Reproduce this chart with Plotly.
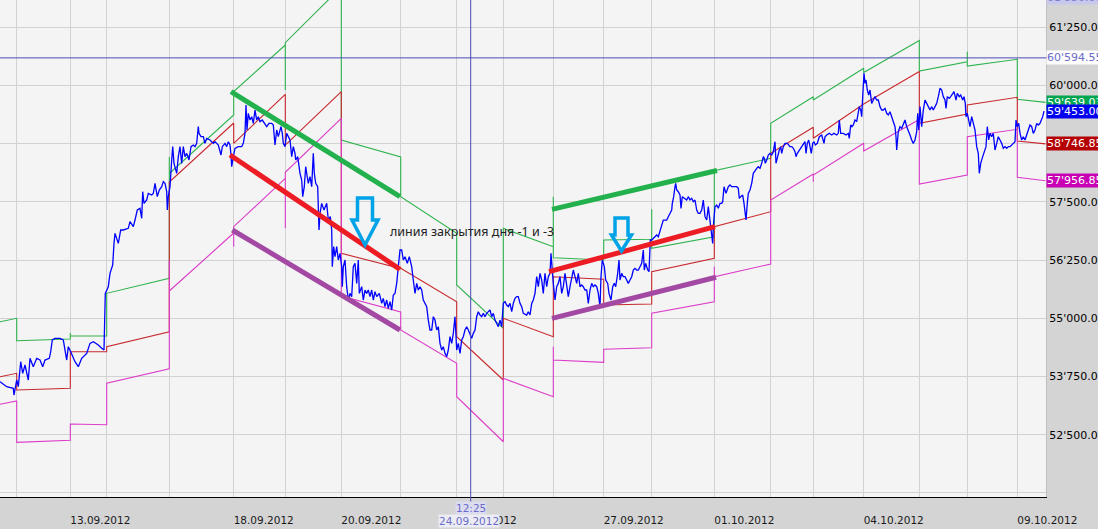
import plotly.graph_objects as go

# ---------------- data ----------------
# trading-day boundaries (bar index on the x axis) and their dates
day_starts = [0, 16.7, 70.3, 106.7, 169.3, 233.7, 285.3, 341.3, 400.7, 456.7, 503.3,
              553.3, 603.7, 651.7, 714.3, 770.7, 813.3, 863.7, 919.3, 967.3, 1017.3]
session_end = 1045.5
day_dates = ["11.09.2012", "12.09.2012", "13.09.2012", "14.09.2012", "17.09.2012",
             "18.09.2012", "19.09.2012", "20.09.2012", "21.09.2012", "24.09.2012",
             "25.09.2012", "26.09.2012", "27.09.2012", "28.09.2012", "01.10.2012",
             "02.10.2012", "03.10.2012", "04.10.2012", "05.10.2012", "08.10.2012",
             "09.10.2012"]
labeled_dates = ["13.09.2012", "18.09.2012", "20.09.2012", "24.09.2012",
                 "27.09.2012", "01.10.2012", "04.10.2012", "09.10.2012"]

# daily channel levels (value at day open / at day close)
upper_open = [54928, 54520, 54621, 55538, 58111, 59873, 60921, 58831, 57613, 55716, 56934,
              56303, 56683, 56505, 58171, 59190, 59690, 60281, 60313, 60420, 59705]
upper_close = [55001, 54556, 54621, 55860, 59368, 60871, 62117, 58466, 56827, 54786, 56539,
               56253, 56698, 56754, 58438, 59761, 60371, 60968, 60513, 60564, 59639.03]
mid_open = [53747, 53461, 54283, 54391, 57929, 58760, 58723, 56397, 56075, 54606, 55001,
            55894, 55287, 56002, 56969, 58545, 58867, 59604, 59190, 59583, 58809]
mid_close = [53820, 53497, 54283, 54713, 59196, 59812, 59868, 56071, 55357, 53676, 54606,
             55839, 55308, 56290, 57291, 59104, 59604, 60302, 59389, 59748, 58746.85]
low_open = [53154, 52337, 52730, 53605, 55587, 56969, 58137, 55480, 54750, 53317, 53712,
            54105, 54335, 55108, 55894, 57542, 58079, 58595, 57886, 58902, 58030]
low_close = [53225, 52380, 52715, 53918, 56833, 58008, 59297, 55136, 54034, 52350, 53317,
             54056, 54369, 55357, 56167, 58100, 58760, 59271, 58079, 59061, 57956.85]
# overshoot reached at the day switch (None = none)
upper_spike = [None, None, 54685, None, 58466, None, 59905, None, None, None, None,
               57613, None, 57342, None, None, None, None, None, 60728, None]
mid_spike = [None] * 21
low_spike = [None, None, None, None, 56253, 56539, 56934, None, None, None, None,
             54391, None, None, 56109, None, 57935, None, None, None, None]

# price (bar index, price)
price_points = [
    (0, 53640), (6.7, 53532), (13.3, 53497), (14, 53353), (16.7, 53676), (18.3, 53532),
    (20.7, 54069), (22.7, 53819), (25, 53998), (28.3, 53676), (30, 54141), (33.3, 53962),
    (36.7, 54141), (40, 54105), (42.7, 53962), (45, 54105), (49.3, 54141), (50.7, 54284),
    (52.3, 54535), (55, 54571), (60, 54571), (63.3, 54535), (66.7, 54105), (68.3, 54392),
    (70.7, 54284), (75, 54069), (78.3, 53962), (81.7, 54141), (86.7, 54248), (90, 54463),
    (93.3, 54499), (98.3, 54427), (101.7, 54356), (104, 54320), (105.3, 55537), (108.3, 55680),
    (110, 55967), (112.7, 56146), (114, 56611), (115, 56826), (118.3, 56611), (120.7, 56898),
    (123.3, 56898), (128.3, 56933), (130, 57077), (133.3, 56969), (135, 57112), (137.3, 57327),
    (140, 57363), (141.7, 57148), (142.7, 57721), (144, 57470), (146.7, 57542), (148.3, 57685),
    (151.7, 57649), (153.3, 57685), (155, 57900), (157.3, 57614), (159.3, 57757), (161.7, 57828),
    (163.3, 57936), (165, 57900), (166.7, 57721), (167.3, 57327), (168.3, 57614), (170, 57828),
    (171.7, 58401), (172.7, 58688), (174, 58330),
    (176.7, 58115), (178.3, 58473), (180, 58688), (181.7, 58330), (183.3, 58688), (185, 58473),
    (186.7, 58544), (189, 58401), (191, 58688), (193.3, 58723), (195, 58688), (196.7, 58759),
    (198.3, 59117), (199, 58974), (201, 58902), (203.3, 58902), (205, 58759), (206.7, 58867),
    (210, 58831), (213.3, 58759), (215, 58795), (216.7, 58759), (218.3, 58723), (221, 58509),
    (222.3, 58688), (225, 58759), (226.7, 58688), (228.3, 58795), (230, 58723), (231, 58509),
    (231.7, 58258), (233.3, 58473), (235, 58652), (238.3, 58688), (241.7, 58688), (243.3, 58759),
    (245, 58974), (246, 59583), (247, 59046), (248.3, 59404), (250, 59260), (251.7, 59332),
    (253.3, 59189), (255, 59475), (256.7, 59260), (258.3, 59332), (260, 59225), (262.3, 59260),
    (265, 59153), (266.7, 59117), (269, 59189), (271.7, 59189), (273.3, 59153), (275, 58723),
    (276.7, 59046), (278.3, 58902), (281, 59117), (282.3, 58974), (283.3, 58759), (285, 58688),
    (286.7, 58974), (288.3, 58902), (290, 58831), (291.7, 58473), (293.3, 58688), (295, 58544),
    (295.7, 58401), (297.7, 58473), (300, 58115), (301.7, 57972), (302.7, 57614), (304.3, 57828),
    (305.7, 58258), (306.7, 58115), (308.3, 57900), (310, 58043), (311.7, 57828), (313.3, 58544),
    (314.3, 58115), (315.7, 57900), (317.7, 57828), (319, 56898), (320, 57256), (321.7, 57470),
    (324, 57327), (326.7, 57470), (328.3, 57112), (330.3, 57184), (331.7, 56898), (332.3, 56110),
    (333.7, 56540), (335, 56325), (336.7, 56540), (338.3, 56253), (340, 56396), (341.7, 56110),
    (342.3, 55680), (343.3, 56110), (345, 56253), (346.7, 55680), (348.3, 55394),
    (350, 55537), (351.7, 55466), (353.3, 56110), (355, 56182), (356.7, 55752), (358.3, 56253),
    (359.3, 55537), (361.7, 55680), (363.3, 55394), (365, 55609), (366.7, 55537), (368.3, 55609),
    (370, 55466), (371.7, 55609), (373.3, 55394), (375, 55573), (376.7, 55466), (379.3, 55537),
    (381.7, 55322), (383.3, 55430), (385, 55251), (386.7, 55394), (388.3, 55215), (390, 55358),
    (391.7, 55179), (393.3, 55501), (395, 55537), (396.7, 55752), (398.3, 56110), (400, 56468),
    (401.7, 56468), (403.3, 56253), (405, 56325), (407.3, 56182), (409.3, 56325), (411.7, 56110),
    (413.3, 55824), (415, 55537), (416.7, 55752), (418.3, 55609), (420, 55680), (421.7, 55609),
    (423.3, 55394), (425, 55322), (426.7, 55251), (428.3, 54964), (430, 54750), (431.7, 54750),
    (433.3, 55036), (435, 54964), (436.7, 54750), (438.3, 54821), (440, 54463), (441.7, 54320),
    (443.3, 54392), (445, 54248), (446.7, 54177), (448.3, 54320), (450, 54606), (451.7, 54463),
    (453.3, 54678), (455, 55036), (456.7, 54320), (458.3, 54463), (460, 54248), (461.7, 54535),
    (463.3, 54606), (465, 54750), (466.7, 54821), (468.3, 54750), (470, 54678), (471.7, 54571),
    (473.3, 54678), (475, 54750), (476.7, 55036), (478.3, 55143), (480, 55072), (481.7, 55036),
    (483.3, 55108), (485, 55036), (486.7, 55108), (488.3, 55143), (490, 55179), (491.7, 55036),
    (493.3, 55108), (495, 54964), (496.7, 54893), (498.3, 54821), (500, 54964), (501.7, 54821),
    (503.3, 55322), (505, 55358), (506.7, 55287), (508.3, 55251), (510, 55322), (511.7, 55143),
    (513.3, 55322), (515, 55430), (516.7, 55466), (518.3, 55466), (520, 55322), (521.7, 55251),
    (523.3, 55108),
    (526.7, 55072), (528.3, 55143), (530, 55072), (531.7, 55322), (533.3, 55394), (535, 55537),
    (536.7, 55895), (538.3, 55680), (540, 55967), (541.7, 55824), (543.3, 55537), (545, 55967),
    (546.7, 55680), (548.3, 55895), (550, 55967), (551, 56396), (551.7, 56110), (553.3, 55752),
    (555, 55394), (556.7, 55680), (558.3, 55752), (560, 55895), (561.7, 55537), (563.3, 55680),
    (565, 55967), (566.7, 55752), (568.3, 55466), (570, 55680), (571.7, 55895), (573.3, 56038),
    (575, 55895), (576.7, 55752), (578.3, 55967), (580, 55680), (581.7, 55716), (583.3, 55680),
    (585, 55609), (586.7, 55609), (588.3, 55322), (590, 55609), (591.7, 55752), (593.3, 55680),
    (595, 55716), (596.7, 55680), (598.3, 55537), (600, 55251), (601, 55895), (602.3, 56253),
    (604.3, 56110), (605.7, 55824), (607.7, 55752), (609, 55537), (611, 55394), (612.7, 55680),
    (614.3, 55752), (615.7, 55680), (617.7, 55967), (619, 56253), (620, 55824), (621.7, 55967),
    (623.3, 55895), (625, 55895), (626.7, 55824), (628.3, 55752), (630, 55824), (631.7, 55895),
    (633.3, 56038), (635, 56074), (636.7, 56038), (638.3, 56038), (640, 56110), (641.7, 56182),
    (643.3, 56468), (644.3, 56038), (645.7, 56182), (647.7, 56038), (649, 56003), (650.3, 56683),
    (651.7, 56683), (653.3, 56719), (655, 56754), (656.7, 56790), (658.3, 56754), (660, 56862),
    (661.7, 56969), (663.3, 57112), (665, 57112), (666.7, 57112), (668.3, 57184), (670, 57256),
    (671.7, 57327), (672.3, 57470), (673.7, 57614), (675, 57828), (675.7, 57900), (676.7, 57757),
    (678.3, 57721), (680, 57649), (681, 57363), (682.3, 57614), (684.3, 57578), (686.7, 57542),
    (688.3, 57614), (690, 57542), (691.7, 57578), (693.3, 57506), (695, 57542), (696.7, 57327),
    (698.3, 57256), (700, 57256),
    (701.7, 57327), (703.3, 57542), (705, 57184), (706.7, 57112), (708.3, 57399), (710, 57112),
    (711.7, 56826), (712.7, 56611), (713.3, 56969), (715, 57399), (716.7, 57435), (718.3, 57363),
    (720, 57470), (721.7, 57470), (722.7, 57506), (724, 57828), (726, 57685), (728.3, 57828),
    (730, 57864), (731.7, 57828), (733.3, 57828), (736.7, 57828), (738.3, 57793), (739.3, 57578),
    (740.7, 57614), (742.7, 57649), (744, 57470), (745, 57327), (746, 57112), (747.3, 57470),
    (748.3, 57685), (750, 57757), (751.7, 57900), (753.3, 58115), (755, 58186), (756.7, 58222),
    (758.3, 58258), (760, 58222), (761.7, 58330), (763.3, 58473), (764.3, 58437), (765.3, 58330),
    (766.7, 58401), (768.3, 58509), (770, 58544), (771.7, 58509), (773.3, 58580), (775, 58795),
    (776, 58330), (777.3, 58473), (779.3, 58616), (780.7, 58688), (781.7, 58544), (783.3, 58688),
    (785, 58759), (787.3, 58759), (790, 58688), (791.7, 58688), (793.3, 58652), (795, 58580),
    (796, 58473), (797.3, 58544), (799.3, 58616), (801.7, 58688), (803.3, 58759), (805, 58795),
    (806, 58544), (807.3, 58759), (808.7, 58831), (810, 58688), (811.3, 58544), (812.7, 58759),
    (814, 58795), (815.3, 58723), (817.3, 58759), (819.3, 58902), (821.7, 58938), (824, 58759),
    (825, 58902), (826.7, 58938), (829.3, 58974), (831.7, 58938), (834, 58974), (836.7, 58938),
    (838.3, 58974), (839.3, 59260), (840.7, 58974), (843.3, 58974), (846, 58938), (848.3, 58974),
    (849.3, 58867), (850.7, 59153), (852, 59117), (853.3, 59153), (855, 59260), (856.7, 59225),
    (858.3, 59404), (859.3, 59547), (860.7, 59475), (861.7, 59332), (862.7, 59762), (863.3, 59976),
    (864, 60263), (865, 60048), (866, 60120), (867.3, 59905), (868.7, 59797),
    (870, 59905), (871.7, 59618), (873.3, 59690), (875, 59762), (876.7, 59690), (878.3, 59690),
    (880, 59547), (881.7, 59475), (883.3, 59475), (885, 59511), (886.7, 59404), (888.3, 59368),
    (890, 59439), (891.7, 59332), (893.3, 59189), (895, 59117), (896, 58902), (896.7, 58616),
    (898.3, 59010), (900, 59117), (901.7, 59081), (903.3, 59153), (905, 59260), (906.7, 59117),
    (908.3, 59046), (910, 58938), (911.7, 58831), (913.3, 58759), (915, 58831), (916.7, 59010),
    (917.7, 59404), (918.7, 59046), (920, 59547), (921.7, 59117), (923.3, 59475), (925, 59690),
    (926.7, 59618), (928.3, 59547), (930, 59475), (931.7, 59547), (933.3, 59475), (935, 59547),
    (936.7, 59618), (938.3, 59762), (940, 59941), (941.7, 59905), (943.3, 59762), (945, 59690),
    (946, 59511), (947.3, 59762), (949.3, 59726), (950.7, 59762), (952.7, 59833), (954, 59869),
    (956, 59690), (957.3, 59833), (959.3, 59762), (960.7, 59797), (962.7, 59690), (964, 59762),
    (965.3, 59618), (966, 59332), (967.3, 59404), (968.7, 59260), (970, 59117), (971.7, 59332),
    (973.3, 59189), (975, 59046), (976.7, 58688), (978.3, 58544), (979.3, 58115), (980.7, 58330),
    (982.7, 58473), (984, 58544), (986, 58688), (987.3, 59117), (988.7, 58831), (990, 58974),
    (991.7, 58902), (993.3, 58974), (995, 58616), (996.7, 58759), (998.3, 58902), (1000, 58831),
    (1001.7, 58759), (1003.3, 58652), (1005, 58688), (1006.7, 58652), (1008.3, 58688),
    (1010, 58688), (1011.7, 58723), (1013.3, 58759), (1015, 58795), (1016, 59260),
    (1017.3, 59117), (1018.7, 59189), (1020, 58974), (1021.7, 58831), (1023.3, 58902),
    (1025, 58831), (1026.7, 58974), (1028.3, 59046), (1030, 59153), (1031.7, 59117),
    (1033.3, 58974), (1035, 59046), (1036.7, 59189), (1038.3, 59153), (1040, 59189),
    (1041.7, 59260), (1042.7, 59332), (1044, 59453),
]
price_bars = [p[0] for p in price_points]
price_vals = [p[1] for p in price_points]
last_price = 59453.00

# hand-drawn trend lines: (bar0, price0, bar1, price1, colour)
trend_lines = [
    (231.0, 59868, 400.0, 57613, "#22b14c"),
    (230.0, 58509, 400.0, 56053, "#ed1c24"),
    (232.3, 56898, 400.0, 54750, "#a349a4"),
    (552.0, 57342, 717.0, 58176, "#22b14c"),
    (549.0, 56002, 715.0, 56969, "#ed1c24"),
    (552.0, 55001, 716.0, 55882, "#a349a4"),
]
# marker arrows: tip (bar, price)
arrow_tips = [(365.0, 56575), (621.5, 56447)]
note_text = "линия закрытия дня -1 и -3"
note_pos = (388.0, 56861)

cross_bar = 470.7
cross_price = 60594.55
cross_time = "12:25"
cross_date = "24.09.2012"

y_ticks = [51250 + 1250 * i for i in range(9)]
y_labeled = [52500 + 1250 * i for i in range(8)]
y_range = [51163, 61838]
x_range = [0, 1046]

FONT = "DejaVu Sans"

def fmt(v):
    return f"{v:,.2f}".replace(",", "'")

# ---------------- figure ----------------
fig = go.Figure()

def band_xy(opens, closes, spikes):
    xs, ys = [], []
    for i in range(len(day_starts)):
        x0 = day_starts[i]
        x1 = day_starts[i + 1] if i + 1 < len(day_starts) else session_end
        if spikes[i] is not None:
            xs.append(x0)
            ys.append(spikes[i])
        xs += [x0, x1]
        ys += [opens[i], closes[i]]
    return xs, ys

for opens, closes, spikes, col in [(upper_open, upper_close, upper_spike, "#2fb34e"),
                                   (mid_open, mid_close, mid_spike, "#c8282d"),
                                   (low_open, low_close, low_spike, "#dc3cc8")]:
    bx, by = band_xy(opens, closes, spikes)
    fig.add_trace(go.Scatter(x=bx, y=by, mode="lines",
                             line=dict(color=col, width=1.1), hoverinfo="skip"))

fig.add_trace(go.Scatter(x=price_bars, y=price_vals, mode="lines",
                         line=dict(color="#0000ff", width=1.3)))

for b0, p0, b1, p1, col in trend_lines:
    fig.add_trace(go.Scatter(x=[b0, b1], y=[p0, p1], mode="lines",
                             line=dict(color=col, width=5)))

shapes = []
# crosshair
shapes.append(dict(type="line", xref="x", yref="paper", x0=cross_bar, x1=cross_bar,
                   y0=-0.012, y1=1, line=dict(color="#4b4bb4", width=1)))
shapes.append(dict(type="line", xref="paper", yref="y", x0=0, x1=1.006,
                   y0=cross_price, y1=cross_price, line=dict(color="#4b4bb4", width=1)))
# hollow down arrows
arrow_geoms = [
    "M0,0 L-13,25 L-7.5,25 L-7.5,47 L7.5,47 L7.5,25 L13,25 Z",
    "M0,0 L-10,16 L-6.5,16 L-6.5,33 L6.5,33 L6.5,16 L10,16 Z",
]
for (ab, ap), geom in zip(arrow_tips, arrow_geoms):
    shapes.append(dict(type="path", xref="x", yref="y", xsizemode="pixel",
                       ysizemode="pixel", xanchor=ab, yanchor=ap, path=geom,
                       line=dict(color="#00a2e8", width=3.5)))

annotations = []
annotations.append(dict(x=note_pos[0], y=note_pos[1], xref="x", yref="y",
                        text=note_text, showarrow=False, xanchor="left", yanchor="middle",
                        font=dict(family="Noto Sans", size=12.5, color="#222222")))

def badge(value, bg, fg, text=None):
    return dict(x=1, xref="paper", y=value, yref="y", xanchor="left", yanchor="middle",
                text=text if text else fmt(value), showarrow=False, bgcolor=bg,
                borderpad=0, width=52, align="left",
                font=dict(family=FONT, size=11, color=fg))

annotations.append(badge(cross_price, "#ffffff", "#6b6bc8"))
annotations.append(badge(upper_close[-1], "#00a550", "#ffffff"))
annotations.append(badge(last_price, "#0000f0", "#ffffff"))
annotations.append(badge(mid_close[-1], "#b40000", "#ffffff"))
annotations.append(badge(low_close[-1], "#c800b4", "#ffffff"))
annotations.append(dict(x=1, xref="paper", y=1, yref="paper", xanchor="left",
                        yanchor="middle", yshift=3, text=fmt(61850), showarrow=False,
                        bgcolor="#c8c8ee", borderpad=0, width=52, align="left",
                        font=dict(family=FONT, size=11, color="#8080c8")))
# crosshair labels on the time axis
annotations.append(dict(x=cross_bar, xref="x", y=0, yref="paper", yanchor="top", yshift=-4,
                        text=cross_time, showarrow=False, bgcolor="#dcdcf0", borderpad=0,
                        font=dict(family=FONT, size=10.5, color="#6b6bc8")))
annotations.append(dict(x=cross_bar - 2, xref="x", y=0, yref="paper", yanchor="top",
                        yshift=-17, text=cross_date, showarrow=False, bgcolor="#ececf4",
                        borderpad=0, font=dict(family=FONT, size=10.5, color="#6b6bc8")))

tick_text = [d if d in labeled_dates else "" for d in day_dates[1:]]
y_text = [fmt(v) if v in y_labeled else "" for v in y_ticks]

fig.update_layout(
    width=1098, height=529,
    margin=dict(l=0, r=52, t=0, b=32, autoexpand=False),
    paper_bgcolor="#d4d4d4", plot_bgcolor="#f4f4f4",
    showlegend=False, hovermode=False,
    shapes=shapes, annotations=annotations,
    xaxis=dict(range=x_range, tickmode="array", tickvals=day_starts[1:], ticktext=tick_text,
               showgrid=True, gridcolor="#d2d2d2", gridwidth=1, zeroline=False,
               showline=True, linecolor="#000000", linewidth=1, ticks="",
               ticklabelshift=30, ticklabelstandoff=13, automargin=False,
               tickfont=dict(family=FONT, size=10.5, color="#1a1a1a")),
    yaxis=dict(range=y_range, side="right", tickmode="array", tickvals=y_ticks,
               ticktext=y_text, showgrid=True, gridcolor="#d2d2d2",
               gridwidth=1, zeroline=False, showline=True, linecolor="#c0c0c0",
               ticks="", automargin=False,
               tickfont=dict(family=FONT, size=11, color="#000000")),
)

fig.write_html("out.html", config={"displayModeBar": False},
               post_script="document.body.style.margin='0';"
                           "document.body.style.overflow='hidden';")
